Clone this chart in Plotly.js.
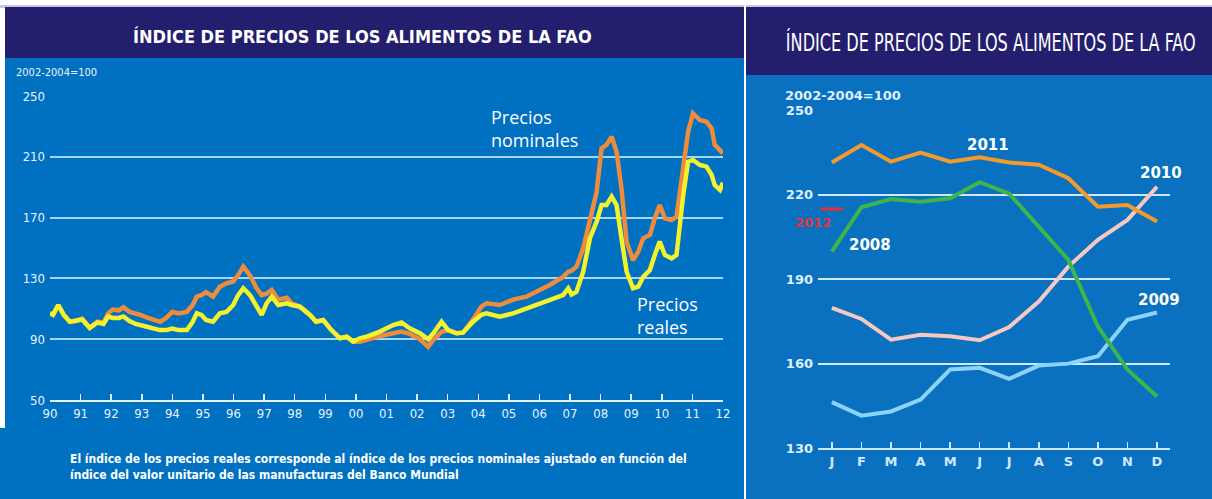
<!DOCTYPE html>
<html><head><meta charset="utf-8">
<script src="https://cdn.plot.ly/plotly-3.0.1.min.js"></script>
<style>html,body{margin:0;padding:0;background:#fff;overflow:hidden}#chart{width:1212px;height:499px}</style>
</head><body><div id="chart"></div>
<script>
// ---------- Left chart: FAO food price index, 1990-2012 (2002-2004=100) ----------
const years = [1990.00,1990.10,1990.27,1990.45,1990.65,1990.85,1991.05,1991.30,1991.55,1991.75,1991.90,
  1992.05,1992.25,1992.40,1992.60,1992.80,1992.95,1993.20,1993.40,1993.60,1993.80,1994.00,1994.20,1994.47,
  1994.65,1994.80,1994.95,1995.10,1995.33,1995.55,1995.77,1995.99,1996.15,1996.32,1996.54,1996.75,1996.92,
  1997.08,1997.25,1997.46,1997.74,1997.90,1998.17,1998.50,1998.70,1998.93,1999.20,1999.48,1999.70,1999.91,
  2000.13,2000.40,2000.78,2001.22,2001.49,2001.76,2002.09,2002.36,2002.53,2002.80,2003.02,2003.29,2003.50,
  2003.83,2004.10,2004.27,2004.70,2005.14,2005.57,2006.01,2006.34,2006.77,2006.94,2007.05,2007.21,2007.43,
  2007.65,2007.87,2008.03,2008.19,2008.36,2008.52,2008.68,2008.85,2009.06,2009.23,2009.39,2009.61,2009.77,
  2009.93,2010.10,2010.32,2010.48,2010.70,2010.86,2011.02,2011.24,2011.46,2011.63,2011.73,2011.90,2012.00];
const nominal = [107,106,112.5,106,101.5,102,103.5,97.5,101.5,101,107,
  109.5,109,111,108,107,106,104,103,101.5,104,108,107,108,
  112,118,119,121,118,124.5,126.8,128,132.2,137.8,132,123.6,119,
  120,122.4,116,117.3,113.6,111.4,106,101.5,102.6,96,90.6,91.7,88.4,
  88.4,90,92,93.9,95,93.5,90,85,89.5,94.9,96,93.9,94.3,
  103,111.4,113.6,112.5,116,118,122.4,125.7,131,134.4,135,137.7,149.8,
  169.5,187,215.6,217.8,223.3,213.4,189.3,154.2,142,147.6,156.4,158.6,169.5,
  178.3,169.5,168.4,170.6,204.6,226.5,238.6,234.2,233,228.7,217.8,214.5,212.3];
const real = [107,106,112.5,106,101.5,102,103,97.4,101,100,105,
  104,104,105,102,100,99,98,97,96,96,97,96,96,
  101,107,106,102.6,101.5,107,108,112.5,119,123.5,119,111.4,106,
  113.6,118,112.5,113.6,112.5,111.4,106,101.5,102.6,96,90.6,91.7,88.4,
  90.6,92,95,99.3,101,97.2,93.9,90,93.9,101.5,96,93.9,94.3,
  101.5,106,107,104.8,107,110.3,113.6,116,119,123.5,119.5,121.3,134.4,
  156.4,167.3,178.3,178.3,183.8,178.3,156.4,134.4,123.5,124.6,131,135.5,145.4,
  154.2,145.4,143.2,145.4,184.9,206.8,207.9,204.6,203.5,198,191.4,188.2,193];
const yearTicks = [1990,1991,1992,1993,1994,1995,1996,1997,1998,1999,2000,2001,2002,2003,2004,2005,2006,2007,2008,2009,2010,2011,2012];
const yearLabels = ['90','91','92','93','94','95','96','97','98','99','00','01','02','03','04','05','06','07','08','09','10','11','12'];
const leftYTicks = [50,90,130,170,210,250];

// ---------- Right chart: monthly index by year ----------
const months = [1,2,3,4,5,6,7,8,9,10,11,12];
const monthLabels = ['J','F','M','A','M','J','J','A','S','O','N','D'];
const y2008 = [199.9,215.6,218.5,217.6,218.8,224.5,220.4,208.7,196.9,173.2,157.9,148.3];
const y2009 = [146.3,141.5,143,147.2,157.9,158.5,154.6,159.3,160,162.6,175.6,178.2];
const y2010 = [179.8,175.9,168.5,170.3,169.7,168.3,173,182.1,194.5,204,211.1,222.9];
const y2011 = [231.5,237.7,231.8,235,231.8,233.4,231.5,230.7,225.9,215.8,216.4,210.5];
const month2012 = [1];
const y2012 = [215];
const rightYTicks = [130,160,190,220,250];

// ---------- styling ----------
const W = 1212, H = 499;
const px = v => v / W;
const py = v => 1 - v / H;
const NARROW = "'Liberation Sans Narrow','DejaVu Sans Condensed','Arial Narrow',sans-serif";
const BOLDSANS = "'DejaVu Sans','Verdana',sans-serif";
const NAVY = '#241e6e', BLUE = '#0070c0', BLUE2 = '#0a71c1';
const TITLE = 'ÍNDICE DE PRECIOS DE LOS ALIMENTOS DE LA FAO';

const rect = (x0, y0, x1, y1, color) => ({type:'rect', xref:'paper', yref:'paper', x0:px(x0), x1:px(x1), y0:py(y1), y1:py(y0), fillcolor:color, line:{width:0}, layer:'below'});

const traces = [
  {x: years, y: nominal, type:'scatter', mode:'lines', name:'Precios nominales', line:{color:'#ef8c3c', width:4.5}, xaxis:'x', yaxis:'y'},
  {x: years, y: real, type:'scatter', mode:'lines', name:'Precios reales', line:{color:'#f4f22c', width:4.5}, xaxis:'x', yaxis:'y'},
  {x: months, y: y2010, type:'scatter', mode:'lines', name:'2010', line:{color:'#f5c8c0', width:4}, xaxis:'x2', yaxis:'y2'},
  {x: months, y: y2009, type:'scatter', mode:'lines', name:'2009', line:{color:'#8cd2fb', width:4}, xaxis:'x2', yaxis:'y2'},
  {x: months, y: y2011, type:'scatter', mode:'lines', name:'2011', line:{color:'#f39a2e', width:4}, xaxis:'x2', yaxis:'y2'},
  {x: months, y: y2008, type:'scatter', mode:'lines', name:'2008', line:{color:'#3db54a', width:4}, xaxis:'x2', yaxis:'y2'},
  {x: month2012, y: y2012, type:'scatter', mode:'markers', name:'2012', marker:{symbol:'line-ew-open', size:16, color:'#e5313c', line:{color:'#e5313c', width:3}}, xaxis:'x2', yaxis:'y2'}
];

const ann = (x, y, text, font, extra) => Object.assign({xref:'paper', yref:'paper', x:px(x), y:py(y), text, showarrow:false, font, xanchor:'left', yanchor:'middle'}, extra||{});

const layout = {
  width: W, height: H,
  margin:{l:0, r:0, t:0, b:0, pad:0},
  paper_bgcolor:'#ffffff', plot_bgcolor:'rgba(0,0,0,0)',
  showlegend:false,
  xaxis:{domain:[px(50), px(723)], range:[1990, 2012], tickvals:yearTicks, ticktext:yearLabels,
    ticks:'inside', ticklen:6, tickwidth:1.5, tickcolor:'#e4f1ff', showline:true, linecolor:'#e4f1ff', linewidth:2,
    showgrid:false, zeroline:false, tickfont:{family:NARROW, size:13, color:'#e8f3ff'}, anchor:'y', fixedrange:true},
  yaxis:{domain:[py(400), py(96)], range:[50, 250], tickvals:leftYTicks, showgrid:true, gridcolor:'#a8d4f6', gridwidth:2,
    zeroline:false, showline:false, ticks:'', tickfont:{family:NARROW, size:13, color:'#e8f3ff'}, anchor:'x', fixedrange:true, ticklabelstandoff:4},
  xaxis2:{domain:[px(818), px(1170)], range:[0.53, 12.44], tickvals:months, ticktext:monthLabels,
    ticks:'inside', ticklen:6, tickwidth:1.5, tickcolor:'#cde7ff', showline:true, linecolor:'#cde7ff', linewidth:2,
    showgrid:false, zeroline:false, tickfont:{family:BOLDSANS, size:13, color:'#cfe8ff', weight:'bold'}, anchor:'y2', fixedrange:true},
  yaxis2:{domain:[py(448), py(110.5)], range:[130, 250], tickvals:rightYTicks, showgrid:true, gridcolor:'#cfe8ff', gridwidth:2,
    zeroline:false, showline:false, ticks:'', tickfont:{family:BOLDSANS, size:13, color:'#dff0ff', weight:'bold'}, anchor:'x2', fixedrange:true, ticklabelstandoff:4},
  shapes:[
    rect(0, 5, 1212, 8, '#c9c6ea'),
    rect(5, 58, 744, 499, BLUE),
    rect(5, 7, 744, 58, NAVY),
    rect(0, 428, 5, 499, BLUE),
    rect(746, 75, 1212, 499, BLUE2),
    rect(746, 7, 1212, 75, NAVY),
    rect(744, 0, 746, 499, '#ffffff')
  ],
  annotations:[
    ann(362, 37, TITLE, {family:NARROW, size:18, color:'#ffffff', weight:'bold'}, {xanchor:'center'}),
    ann(14, 72, '2002-2004=100', {family:NARROW, size:11, color:'#e8f3ff'}),
    ann(489, 128, 'Precios<br>nominales', {family:"'Open Sans',sans-serif", size:18, color:'#ffffff'}, {align:'left'}),
    ann(635, 315, 'Precios<br>reales', {family:"'Open Sans',sans-serif", size:18, color:'#ffffff'}, {align:'left'}),
    ann(68, 467, 'El índice de los precios reales corresponde al índice de los precios nominales ajustado en función del<br>índice del valor unitario de las manufacturas del Banco Mundial',
      {family:NARROW, size:12, color:'#ffffff', weight:'bold'}, {align:'left'}),
    ann(991, 42, TITLE, {family:NARROW, size:17, color:'#ffffff'}, {xanchor:'center'}),
    ann(783, 96, '2002-2004=100', {family:BOLDSANS, size:13, color:'#dff0ff', weight:'bold'}),
    ann(988, 145, '2011', {family:BOLDSANS, size:15, color:'#ffffff', weight:'bold'}, {xanchor:'center'}),
    ann(1161, 173, '2010', {family:BOLDSANS, size:15, color:'#ffffff', weight:'bold'}, {xanchor:'center'}),
    ann(870, 245, '2008', {family:BOLDSANS, size:15, color:'#ffffff', weight:'bold'}, {xanchor:'center'}),
    ann(1159, 300, '2009', {family:BOLDSANS, size:15, color:'#ffffff', weight:'bold'}, {xanchor:'center'}),
    ann(813, 222, '2012', {family:BOLDSANS, size:13, color:'#e5313c', weight:'bold'}, {xanchor:'center'})
  ]
};

Plotly.newPlot('chart', traces, layout, {staticPlot:true, displayModeBar:false}).then(gd => {
  // stretch the right-hand title vertically (tall condensed lettering as in the original)
  gd.querySelectorAll('text.annotation-text').forEach(t => {
    if (t.textContent === TITLE && t.style.fontSize === '17px') {
      const b = t.getBBox();
      const cx = b.x + b.width / 2, cy = b.y + b.height / 2;
      const sx = 410 / b.width, sy = 1.5;
      t.setAttribute('transform', `translate(${cx},${cy}) scale(${sx},${sy}) translate(${-cx},${-cy})`);
    }
  });
});
</script>
</body></html>
